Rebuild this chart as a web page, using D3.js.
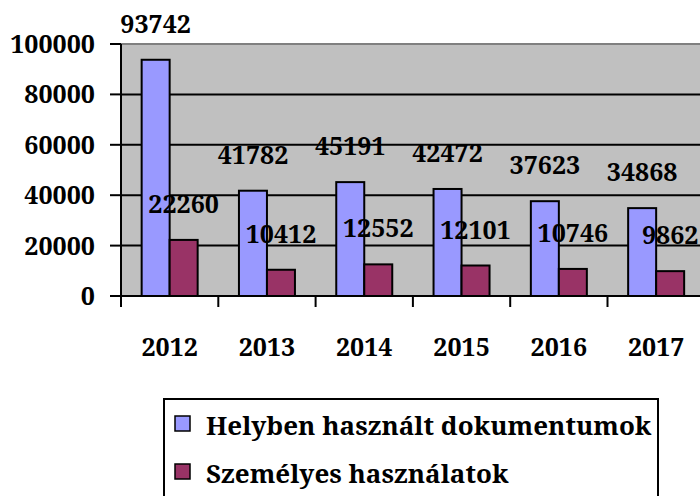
<!DOCTYPE html>
<html>
<head>
<meta charset="utf-8">
<script src="https://cdn.jsdelivr.net/npm/d3@7"></script>
<style>
	html, body { margin: 0; padding: 0; background: #fff; }
</style>
</head>
<body>
<div id="chart"></div>
<script>
// ---------------------------------------------
// data
// ---------------------------------------------
let years    = ['2012', '2013', '2014', '2015', '2016', '2017'];
let helyben  = [93742, 41782, 45191, 42472, 37623, 34868];
let szemelyes = [22260, 10412, 12552, 12101, 10746, 9862];
let yTicks   = [0, 20000, 40000, 60000, 80000, 100000];
let seriesNames = ['Helyben használt dokumentumok', 'Személyes használatok'];
let colors   = ['#9999ff', '#993366'];

let width = 700, height = 496;
let plot = {left: 121, top: 44, bottom: 296, band: 97.3};
let fontSize = 25;

let svg = d3.select('#chart').append('svg')
	.attr('width', width)
	.attr('height', height)
	.attr('font-family', 'Noto Serif, Liberation Serif, serif')
	.attr('font-weight', 'bold');

let x = d3.scaleBand()
	.domain(years)
	.range([plot.left, plot.left + plot.band * years.length]);

let y = d3.scaleLinear()
	.domain([0, 100000])
	.range([plot.bottom, plot.top]);

let barW = 28;

// plot background
svg.append('rect')
	.attr('x', plot.left)
	.attr('y', plot.top)
	.attr('width', width - plot.left + 10)
	.attr('height', plot.bottom - plot.top)
	.attr('fill', '#c0c0c0');

// gridlines
svg.append('g').selectAll('line')
	.data(yTicks.filter(d => d > 0 && d < 100000))
	.enter().append('line')
	.attr('x1', plot.left).attr('x2', width)
	.attr('y1', d => y(d)).attr('y2', d => y(d))
	.attr('stroke', '#000').attr('stroke-width', 2);

// top border of plot area
svg.append('line')
	.attr('x1', plot.left).attr('x2', width)
	.attr('y1', y(100000)).attr('y2', y(100000))
	.attr('stroke', '#808080').attr('stroke-width', 2);

// ---------------------------------------------
// bars
// ---------------------------------------------
let series = [helyben, szemelyes];
series.forEach(function(vals, si) {
	let bx = (d, i) => x(years[i]) + x.bandwidth() / 2 - barW + si * barW;
	svg.append('g').selectAll('rect')
		.data(vals)
		.enter().append('rect')
		.attr('x', bx)
		.attr('y', d => y(d))
		.attr('width', barW)
		.attr('height', d => plot.bottom - y(d))
		.attr('fill', colors[si])
		.attr('stroke', '#000')
		.attr('stroke-width', 2);
});

// value labels, drawn after all bars so they sit on top
series.forEach(function(vals, si) {
	svg.append('g').selectAll('text')
		.data(vals)
		.enter().append('text')
		.attr('x', (d, i) => x(years[i]) + x.bandwidth() / 2 - barW / 2 + si * barW)
		.attr('y', d => y(d) - 27)
		.attr('text-anchor', 'middle')
		.attr('font-size', fontSize)
		.text(d => d);
});

// ---------------------------------------------
// axes
// ---------------------------------------------
let yAxis = svg.append('g');
yAxis.append('line')
	.attr('x1', plot.left).attr('x2', plot.left)
	.attr('y1', plot.top).attr('y2', plot.bottom + 11)
	.attr('stroke', '#000').attr('stroke-width', 2);
yAxis.selectAll('.tick')
	.data(yTicks)
	.enter().append('line')
	.attr('x1', plot.left - 11).attr('x2', plot.left)
	.attr('y1', d => y(d)).attr('y2', d => y(d))
	.attr('stroke', '#000').attr('stroke-width', 2);
yAxis.selectAll('text')
	.data(yTicks)
	.enter().append('text')
	.attr('x', 95)
	.attr('y', d => y(d) + 9)
	.attr('text-anchor', 'end')
	.attr('font-size', fontSize)
	.text(d => d);

let xAxis = svg.append('g');
xAxis.append('line')
	.attr('x1', plot.left).attr('x2', width)
	.attr('y1', plot.bottom).attr('y2', plot.bottom)
	.attr('stroke', '#000').attr('stroke-width', 2);
xAxis.selectAll('.tick')
	.data(years.slice(1))
	.enter().append('line')
	.attr('x1', d => x(d)).attr('x2', d => x(d))
	.attr('y1', plot.bottom).attr('y2', plot.bottom + 11)
	.attr('stroke', '#000').attr('stroke-width', 2);
xAxis.selectAll('text')
	.data(years)
	.enter().append('text')
	.attr('x', d => x(d) + x.bandwidth() / 2)
	.attr('y', 356)
	.attr('text-anchor', 'middle')
	.attr('font-size', fontSize)
	.text(d => d);

// ---------------------------------------------
// legend
// ---------------------------------------------
let legend = svg.append('g');
legend.append('rect')
	.attr('x', 164).attr('y', 399)
	.attr('width', 494).attr('height', 120)
	.attr('fill', '#fff')
	.attr('stroke', '#000').attr('stroke-width', 2);

let items = legend.selectAll('.item')
	.data(seriesNames)
	.enter().append('g')
	.attr('transform', (d, i) => 'translate(0,' + (i * 48) + ')');
items.append('rect')
	.attr('x', 175).attr('y', 416)
	.attr('width', 15).attr('height', 15)
	.attr('fill', (d, i) => colors[i])
	.attr('stroke', '#000').attr('stroke-width', 1.5);
items.append('text')
	.attr('x', 206).attr('y', 435)
	.attr('font-size', 26)
	.text(d => d);
</script>
</body>
</html>
